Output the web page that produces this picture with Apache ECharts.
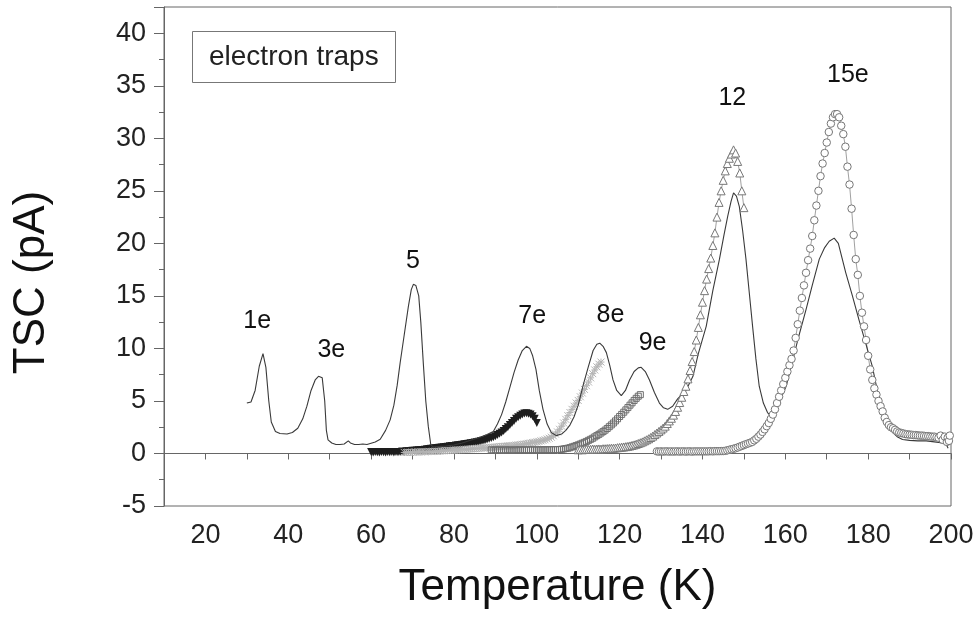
<!DOCTYPE html>
<html>
<head>
<meta charset="utf-8">
<script src="https://cdn.jsdelivr.net/npm/echarts@6/dist/echarts.min.js"></script>
<style>
html,body{margin:0;padding:0;background:#fff;}
#chart{width:980px;height:620px;}
</style>
</head>
<body>
<div id="chart"></div>
<script>
// ---- Data (temperature K, TSC pA) ----
const xTickStep = 10;
const xLabelEvery = 20;
const yTickStep = 5;

const measuredTSC = [
[30,4.8],[31,4.9],[32,6.0],[33,8.3],[33.9,9.5],[34.6,8.2],[35.3,5.0],[35.9,3.0],[36.9,2.1],[38,1.9],
[39.7,1.85],[41,2.0],[42.3,2.4],[43.5,3.3],[44.5,4.5],[45.5,6.0],[46.5,7.0],[47.3,7.35],[48.2,7.2],[48.8,5.0],
[49.2,2.2],[49.6,1.3],[50.5,1.0],[51.5,0.85],[52.5,0.85],[53.5,0.9],[54.5,1.2],[55,1.0],[56,0.85],[57,0.85],
[58,0.9],[59,0.85],[59.8,0.95],[61,1.1],[62.2,1.35],[63.5,2.2],[64.6,3.2],[65.5,4.6],[66.3,6.5],[67,8.6],
[68,11.3],[69,14.0],[69.7,15.6],[70.2,16.1],[70.8,16.0],[71.5,15.0],[72,12.5],[72.6,8.6],[73.2,5.0],[73.8,2.6],
[74.4,0.85],[75,0.6],[76,0.65],[78,0.7],[80,0.8],[82,1.0],[84,1.25],[86,1.5],[88,1.8],[89.5,2.1],
[90.5,2.8],[91.5,3.7],[92.5,4.9],[93.5,6.3],[94.5,7.7],[95.5,8.9],[96.5,9.8],[97.5,10.2],[98.3,10.0],[99,9.3],
[99.8,8.0],[100.6,6.0],[101.5,4.2],[102.5,2.8],[103.5,2.0],[104.7,1.7],[106,1.85],[107,2.2],[108,2.7],[109,3.5],
[110,4.6],[111.2,6.5],[112.4,8.2],[113.6,9.8],[114.5,10.4],[115.2,10.5],[116,10.2],[116.8,9.6],[117.6,8.4],[118.4,7.0],
[119.3,6.0],[120.4,5.5],[121.4,6.0],[122.4,7.0],[123.5,7.8],[124.5,8.15],[125.2,8.2],[126.2,7.8],[127.2,7.0],[128.4,5.8],
[129.6,4.8],[130.6,4.35],[131.6,4.2],[132.8,4.5],[134,5.2],[136,6.0],[137.7,7.35],[139,9.5],[140.9,12.1],[142.5,15.5],
[144.1,18.5],[145.2,20.8],[146.1,22.6],[146.9,24.0],[147.5,24.8],[148.2,24.5],[148.9,23.5],[149.7,21.2],[150.5,18.5],[151.3,15.3],
[152.1,12.1],[152.9,9.0],[153.7,6.4],[154.7,4.8],[155.7,3.9],[156.9,3.4],[158,4.3],[159,5.3],[160.2,6.4],[161.5,8.4],
[163,10.8],[165,13.7],[166.5,16.0],[168.2,18.5],[169.5,19.6],[170.6,20.2],[171.8,20.5],[172.8,20.0],[173.7,18.6],[174.6,17.2],
[176.2,15.0],[177.8,12.7],[179.4,10.5],[181,8.3],[182.2,6.0],[183.4,4.2],[184.6,2.9],[185.9,2.0],[187,1.6],[188.3,1.33],
[190,1.25],[192,1.2],[194,1.2],[196,1.1],[198,1.0],[198.7,1.0],[199.3,0.5]
];

const fit7e = [
[60,0.15],[60.5,0.1],[61,0.15],[61.5,0.12],[62,0.1],[62.5,0.15],[63,0.12],[63.5,0.1],[64,0.15],[64.5,0.12],
[65,0.15],[65.5,0.1],[66,0.15],[66.5,0.12],[67,0.15],[67.5,0.18],[68,0.15],[68.5,0.2],[69,0.2],[69.5,0.22],
[70,0.25],[70.5,0.25],[71,0.28],[71.5,0.3],[72,0.3],[72.5,0.33],[73,0.35],[73.5,0.4],[74,0.42],[74.5,0.45],
[75,0.48],[75.5,0.5],[76,0.52],[76.5,0.55],[77,0.58],[77.5,0.6],[78,0.62],[78.5,0.65],[79,0.68],[79.5,0.7],
[80,0.72],[80.5,0.75],[81,0.78],[81.5,0.8],[82,0.83],[82.5,0.87],[83,0.9],[83.5,0.93],[84,0.97],[84.5,1.0],
[85,1.05],[85.5,1.08],[86,1.12],[86.5,1.17],[87,1.22],[87.5,1.27],[88,1.33],[88.5,1.4],[89,1.47],[89.5,1.55],
[90,1.65],[90.5,1.75],[91,1.87],[91.5,2.0],[92,2.15],[92.5,2.32],[93,2.5],[93.5,2.7],[94,2.9],[94.5,3.1],
[95,3.3],[95.5,3.45],[96,3.6],[96.5,3.72],[97,3.8],[97.5,3.82],[98,3.78],[98.5,3.7],[99,3.55],[99.5,3.3],[100,2.9]
];

const fit8e = [
[68,0.1],[68.5,0.1],[69,0.12],[69.5,0.1],[70,0.12],[70.5,0.15],[71,0.12],[71.5,0.15],[72,0.15],[72.5,0.18],
[73,0.15],[73.5,0.18],[74,0.2],[74.5,0.18],[75,0.2],[75.5,0.22],[76,0.2],[76.5,0.22],[77,0.25],[77.5,0.25],
[78,0.27],[78.5,0.28],[79,0.3],[79.5,0.3],[80,0.32],[80.5,0.33],[81,0.35],[81.5,0.36],[82,0.38],[82.5,0.4],
[83,0.4],[83.5,0.42],[84,0.43],[84.5,0.45],[85,0.46],[85.5,0.47],[86,0.48],[86.5,0.5],[87,0.52],[87.5,0.53],
[88,0.55],[88.5,0.57],[89,0.58],[89.5,0.6],[90,0.62],[90.5,0.63],[91,0.65],[91.5,0.67],[92,0.68],[92.5,0.7],
[93,0.72],[93.5,0.73],[94,0.75],[94.5,0.77],[95,0.8],[95.5,0.82],[96,0.85],[96.5,0.87],[97,0.9],[97.5,0.93],
[98,0.96],[98.5,1.0],[99,1.03],[99.5,1.07],[100,1.1],[100.5,1.15],[101,1.2],[101.5,1.25],[102,1.3],[102.5,1.38],
[103,1.45],[103.5,1.55],[104,1.68],[104.5,1.85],[105,2.05],[105.5,2.3],[106,2.6],[106.5,2.9],[107,3.25],[107.5,3.6],
[108,3.9],[108.5,4.2],[109,4.5],[109.5,4.8],[110,5.05],[110.5,5.4],[111,5.75],[111.5,6.1],[112,6.45],[112.5,6.8],
[113,7.2],[113.5,7.6],[114,7.95],[114.5,8.25],[115,8.5],[115.5,8.7]
];

const fit9e = [
[89,0.35],[89.5,0.3],[90,0.35],[90.5,0.32],[91,0.35],[91.5,0.3],[92,0.33],[92.5,0.35],[93,0.32],[93.5,0.35],
[94,0.3],[94.5,0.33],[95,0.35],[95.5,0.32],[96,0.35],[96.5,0.33],[97,0.35],[97.5,0.32],[98,0.35],[98.5,0.34],
[99,0.35],[99.5,0.33],[100,0.35],[100.5,0.34],[101,0.35],[101.5,0.35],[102,0.36],[102.5,0.35],[103,0.36],[103.5,0.36],
[104,0.37],[104.5,0.36],[105,0.37],[105.5,0.38],[106,0.4],[106.5,0.43],[107,0.47],[107.5,0.5],[108,0.55],[108.5,0.62],
[109,0.68],[109.5,0.75],[110,0.82],[110.5,0.9],[111,0.98],[111.5,1.06],[112,1.15],[112.5,1.25],[113,1.35],[113.5,1.45],
[114,1.58],[114.5,1.7],[115,1.82],[115.5,1.95],[116,2.08],[116.5,2.22],[117,2.38],[117.5,2.55],[118,2.72],[118.5,2.9],
[119,3.1],[119.5,3.3],[120,3.52],[120.5,3.72],[121,3.93],[121.5,4.15],[122,4.37],[122.5,4.6],[123,4.82],[123.5,5.05],
[124,5.25],[124.5,5.45],[125,5.6]
];

const fit12 = [
[110,0.35],[110.5,0.38],[111,0.35],[111.5,0.38],[112,0.4],[112.5,0.38],[113,0.4],[113.5,0.42],[114,0.4],[114.5,0.42],
[115,0.43],[115.5,0.42],[116,0.45],[116.5,0.45],[117,0.47],[117.5,0.48],[118,0.5],[118.5,0.5],[119,0.52],[119.5,0.55],
[120,0.57],[120.5,0.6],[121,0.62],[121.5,0.65],[122,0.68],[122.5,0.72],[123,0.77],[123.5,0.82],[124,0.88],[124.5,0.95],
[125,1.02],[125.5,1.1],[126,1.2],[126.5,1.3],[127,1.4],[127.5,1.52],[128,1.65],[128.5,1.8],[129,1.95],[129.5,2.1],
[130,2.25],[130.5,2.42],[131,2.6],[131.5,2.85],[132,3.1],[132.5,3.35],[133,3.65],[133.5,4.0],[134,4.4],[134.5,4.85],
[135,5.35],[135.5,5.9],[136,6.4],[136.5,7.1],[137,7.9],[137.5,8.75],[138,9.7],[138.5,10.8],[139,12.0],[139.5,13.2],
[140,14.4],[140.5,15.5],[141,16.6],[141.5,17.6],[142,18.6],[142.5,19.8],[143,21.0],[143.5,22.5],[144,23.9],[144.5,25.0],
[145,26.0],[145.5,26.9],[146,27.6],[146.5,28.1],[147,28.5],[147.5,28.9],[148,28.6],[148.5,27.8],[149,26.7],[149.5,25.0],
[150,23.4]
];

const fit15e = [
[129,0.2],[129.5,0.18],[130,0.2],[130.5,0.18],[131,0.2],[131.5,0.2],[132,0.18],[132.5,0.2],[133,0.18],[133.5,0.2],
[134,0.2],[134.5,0.18],[135,0.2],[135.5,0.2],[136,0.18],[136.5,0.2],[137,0.2],[137.5,0.18],[138,0.2],[138.5,0.2],
[139,0.2],[139.5,0.2],[140,0.2],[140.5,0.2],[141,0.2],[141.5,0.2],[142,0.22],[142.5,0.2],[143,0.22],[143.5,0.22],
[144,0.22],[144.5,0.23],[145,0.23],[145.5,0.25],[146,0.3],[146.5,0.35],[147,0.4],[147.5,0.45],[148,0.5],[148.5,0.57],
[149,0.65],[149.5,0.72],[150,0.8],[150.5,0.88],[151,0.95],[151.5,1.02],[152,1.1],[152.5,1.25],[153,1.4],[153.5,1.6],
[154,1.8],[154.5,2.05],[155,2.3],[155.5,2.6],[156,2.9],[156.5,3.3],[157,3.7],[157.5,4.2],[158,4.8],[158.5,5.4],
[159,6.0],[159.5,6.6],[160,7.2],[160.5,7.8],[161,8.4],[161.5,9.0],[162,9.8],[162.5,11.0],[163,12.3],[163.5,13.6],
[164,14.8],[164.5,16.0],[165,17.2],[165.5,18.4],[166,19.5],[166.5,20.7],[167,22.2],[167.5,23.6],[168,25.0],[168.5,26.4],
[169,27.6],[169.5,28.6],[170,29.6],[170.5,30.6],[171,31.4],[171.5,32.0],[172,32.3],[172.5,32.3],[173,32.0],[173.5,31.2],
[174,30.4],[174.5,29.2],[175,27.3],[175.5,25.6],[176,23.3],[176.5,20.8],[177,18.5],[177.5,17.0],[178,15.0],[178.5,13.4],
[179,12.1],[179.5,10.8],[180,9.3],[180.5,8.0],[181,7.0],[181.5,6.2],[182,5.6],[182.5,5.0],[183,4.5],[183.5,4.0],
[184,3.4],[184.5,3.0],[185,2.7],[185.5,2.5],[186,2.4],[186.5,2.25],[187,2.1],[187.5,2.0],[188,1.95],[188.5,1.9],
[189,1.85],[189.5,1.82],[190,1.8],[190.5,1.78],[191,1.75],[191.5,1.75],[192,1.72],[192.5,1.7],[193,1.7],[193.5,1.68],
[194,1.65],[194.5,1.65],[195,1.62],[195.5,1.6],[196,1.6],[196.5,1.55],[197,1.5],[197.5,1.7],[198,1.3],[198.5,1.6],
[199,1.1],[199.2,1.5],[199.5,1.2],[199.7,1.7]
];

const peakNames = ['1e','3e','5','7e','8e','9e','12','15e'];
const peakLabelT = [32.5,50.4,70.1,98.9,117.8,127.95,147.2,175.1];
const peakLabelI = [12.56,9.8,18.27,13.04,13.13,10.47,33.87,35.97];

const legendText = 'electron traps';
const xTitle = 'Temperature (K)';
const yTitle = 'TSC (pA)';

// ---- Chart ----
const FONT = "'Liberation Sans', Arial, Helvetica, sans-serif";
const chart = echarts.init(document.getElementById('chart'), null, {renderer: 'canvas'});

const peakData = peakNames.map((n, i) => ({name: n, value: [peakLabelT[i], peakLabelI[i]]}));

const option = {
  animation: false,
  backgroundColor: '#fff',
  title: {
    text: legendText,
    left: 192, top: 31,
    padding: [12, 17, 12, 17],
    borderColor: '#777', borderWidth: 1,
    textStyle: {fontFamily: FONT, fontSize: 28, fontWeight: 'normal', color: '#222'}
  },
  grid: {
    left: 164, right: 29, top: 7, bottom: 114,
    show: true, borderColor: '#666', borderWidth: 1, backgroundColor: 'transparent'
  },
  xAxis: {
    type: 'value', min: 10, max: 200, interval: xTickStep,
    name: xTitle, nameLocation: 'middle', nameGap: 60,
    nameTextStyle: {fontFamily: FONT, fontSize: 44, color: '#111'},
    axisLine: {show: true, lineStyle: {color: '#666', width: 1}},
    axisTick: {show: true, inside: false, length: 6, lineStyle: {color: '#666'}},
    axisLabel: {
      margin: 16, fontFamily: FONT, fontSize: 27, color: '#222',
      formatter: v => (Math.round(v) % xLabelEvery === 0 ? String(Math.round(v)) : '')
    },
    splitLine: {show: false}
  },
  yAxis: {
    type: 'value', min: -5, max: 42.5, interval: yTickStep,
    name: yTitle, nameLocation: 'middle', nameRotate: 90, nameGap: 110,
    nameTextStyle: {fontFamily: FONT, fontSize: 44, color: '#111', padding: [0, 52, 0, 0]},
    axisLine: {show: true, lineStyle: {color: '#666', width: 1}},
    axisTick: {show: true, inside: false, length: 10, lineStyle: {color: '#666'}},
    minorTick: {show: true, splitNumber: 2, length: 5, lineStyle: {color: '#666'}},
    axisLabel: {
      margin: 18, fontFamily: FONT, fontSize: 27, color: '#222', showMaxLabel: false,
      formatter: v => (Math.abs(v % yTickStep) < 1e-9 ? String(v) : '')
    },
    splitLine: {show: false}
  },
  series: [
    {
      name: 'fit 7e', type: 'scatter', data: fit7e,
      symbol: 'triangle', symbolRotate: 180, symbolSize: 8,
      itemStyle: {color: '#1e1e1e', opacity: 1}
    },
    {
      name: 'fit 8e', type: 'scatter', data: fit8e,
      symbol: 'path://M0 0L10 10M10 0L0 10M5 0L5 10M0 5L10 5', symbolSize: 7,
      itemStyle: {color: 'transparent', borderColor: '#b4b4b4', borderWidth: 1, opacity: 1}
    },
    {
      name: 'fit 9e', type: 'scatter', data: fit9e,
      symbol: 'rect', symbolSize: 6,
      itemStyle: {color: 'transparent', borderColor: '#6e6e6e', borderWidth: 1, opacity: 1}
    },
    {
      name: 'fit 12', type: 'line', data: fit12, showSymbol: true, showAllSymbol: true,
      symbol: 'triangle', symbolSize: 8,
      lineStyle: {color: '#888', width: 0.8},
      itemStyle: {color: '#fff', borderColor: '#777', borderWidth: 1}
    },
    {
      name: 'fit 15e', type: 'line', data: fit15e, showSymbol: true, showAllSymbol: true,
      symbol: 'circle', symbolSize: 7.5,
      lineStyle: {color: '#888', width: 0.8},
      itemStyle: {color: '#fff', borderColor: '#777', borderWidth: 1}
    },
    {
      name: 'measured', type: 'line', data: measuredTSC, showSymbol: false,
      lineStyle: {color: '#3a3a3a', width: 1.1}
    },
    {
      name: 'peaks', type: 'scatter', data: peakData, symbolSize: 0,
      itemStyle: {opacity: 1},
      label: {
        show: true, position: 'inside', formatter: p => p.name, opacity: 1,
        fontFamily: FONT, fontSize: 25, color: '#111'
      }
    }
  ]
};
chart.setOption(option);
</script>
</body>
</html>
